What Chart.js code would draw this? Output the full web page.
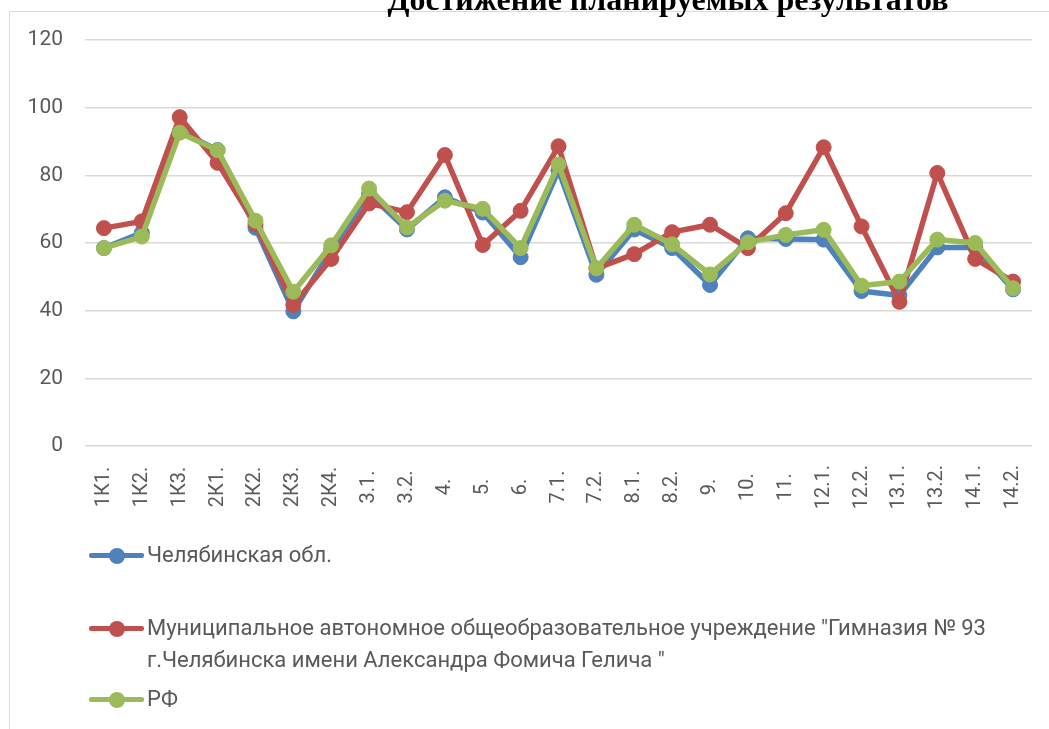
<!DOCTYPE html>
<html>
<head>
<meta charset="utf-8">
<script src="https://cdn.jsdelivr.net/npm/chart.js@4.4.1/dist/chart.umd.min.js"></script>
<style>
  body { margin: 0; background: #fff; overflow: hidden; }
  #wrap { position: relative; width: 1049px; height: 729px; overflow: hidden; }
  #frame { position: absolute; left: 9px; top: 11px; width: 1100px; height: 800px; border: 1.5px solid #d9d9d9; }
  #title { position: absolute; left: 0; width: 1336px; top: -17px; text-align: center; font: bold 32px "Liberation Serif", serif; line-height: 32px; color: #000; white-space: nowrap; }
  #chart { position: absolute; left: 0; top: 0; }
  #legend { position: absolute; left: 89px; top: 539px; width: 950px; font-family: Roboto, sans-serif; font-size: 22px; color: #595959; }
  .row { position: relative; padding-left: 58px; line-height: 32px; }
  .mark { position: absolute; left: 0; top: 0; width: 55px; height: 32px; }
  .mark .ln { position: absolute; left: 0; right: 0; top: 13.5px; height: 5.5px; border-radius: 2px; }
  .mark .dot { position: absolute; left: 20px; top: 8.5px; width: 16px; height: 16px; border-radius: 50%; }
</style>
</head>
<body>
<div id="wrap">
  <div id="frame"></div>
  <canvas id="chart" width="1049" height="729"></canvas>
  <div id="title">Достижение планируемых результатов</div>
  <div id="legend"></div>
</div>
<script>
const labels = ["1К1.", "1К2.", "1К3.", "2К1.", "2К2.", "2К3.", "2К4.", "3.1.", "3.2.", "4.", "5.", "6.", "7.1.", "7.2.", "8.1.", "8.2.", "9.", "10.", "11.", "12.1.", "12.2.", "13.1.", "13.2.", "14.1.", "14.2."];

const chelValues = [58.5, 63, 93, 87.5, 64.5, 39.8, 58, 74.5, 64, 73.5, 69, 55.8, 81.5, 50.6, 64, 58.5, 47.6, 61.4, 61.2, 61, 45.8, 44.5, 58.7, 58.7, 46.3];
const schoolValues = [64.4, 66.4, 97.2, 83.7, 65.5, 41.7, 55.3, 71.7, 69.1, 86, 59.4, 69.5, 88.6, 52.5, 56.7, 63.2, 65.4, 58.5, 68.8, 88.3, 64.9, 42.6, 80.7, 55.3, 48.6];
const rfValues = [58.5, 61.9, 92.6, 87.4, 66.6, 45.6, 59.3, 76.1, 64.6, 72.5, 70.1, 58.5, 83.2, 52.5, 65.4, 59.6, 50.7, 60.2, 62.4, 63.9, 47.4, 48.6, 61, 60, 46.6];

const seriesNames = ["Челябинская обл.", "Муниципальное автономное общеобразовательное учреждение \"Гимназия № 93 г.Челябинска имени Александра Фомича Гелича \"", "РФ"];
const seriesColors = ["#4f81bd", "#c0504d", "#9bbb59"];

const yMin = 0;
const yMax = 120;
const yStep = 20;

const ctx = document.getElementById("chart").getContext("2d");

function makeSet(i, values) {
  return {
    label: seriesNames[i],
    data: values,
    borderColor: seriesColors[i],
    backgroundColor: seriesColors[i],
    pointBackgroundColor: seriesColors[i],
    pointBorderColor: seriesColors[i],
    borderWidth: 5.5,
    pointRadius: 7.5,
    pointHoverRadius: 7.5,
    pointBorderWidth: 1,
    tension: 0,
    fill: false,
    order: 3 - i,
  };
}

// x labels are drawn by hand so they sit centred under the axis like in Excel
const xLabelPlugin = {
  id: "xLabels",
  afterDraw(chart) {
    const c = chart.ctx;
    const x = chart.scales.x;
    const yc = chart.chartArea.bottom + 41;
    c.save();
    c.fillStyle = "#595959";
    c.font = "20px Roboto";
    c.textAlign = "center";
    c.textBaseline = "middle";
    labels.forEach((lab, i) => {
      c.save();
      c.translate(x.getPixelForTick(i), yc);
      c.rotate(-Math.PI / 2);
      c.fillText(lab, 0, 0);
      c.restore();
    });
    c.restore();
  },
};

const config = {
  type: "line",
  data: {
    labels: labels,
    datasets: [makeSet(0, chelValues), makeSet(1, schoolValues), makeSet(2, rfValues)],
  },
  options: {
    responsive: false,
    animation: false,
    devicePixelRatio: 1,
    layout: {
      padding: { left: 0, top: 40, right: 17, bottom: 275 },
    },
    plugins: {
      legend: { display: false },
      title: { display: false },
      tooltip: { enabled: false },
    },
    scales: {
      x: {
        type: "category",
        offset: true,
        grid: { display: false },
        border: { display: false },
        ticks: { display: false },
      },
      y: {
        min: yMin,
        max: yMax,
        afterFit: (s) => { s.width = 85; },
        grid: { color: "#d9d9d9", lineWidth: 1.5, drawTicks: false },
        border: { display: false },
        ticks: {
          stepSize: yStep,
          padding: 22,
          color: "#595959",
          font: { family: "Roboto", size: 21 },
        },
      },
    },
  },
  plugins: [xLabelPlugin],
};

const myChart = new Chart(ctx, config);

// legend built as html, rows placed like the Excel legend
const legendGaps = [0, 41, 7];
const legendBox = document.getElementById("legend");
seriesNames.forEach((name, i) => {
  const row = document.createElement("div");
  row.className = "row";
  row.style.marginTop = legendGaps[i] + "px";
  row.innerHTML = '<span class="mark"><span class="ln" style="background:' + seriesColors[i] + '"></span><span class="dot" style="background:' + seriesColors[i] + '"></span></span>';
  row.appendChild(document.createTextNode(name));
  legendBox.appendChild(row);
});
</script>
</body>
</html>
